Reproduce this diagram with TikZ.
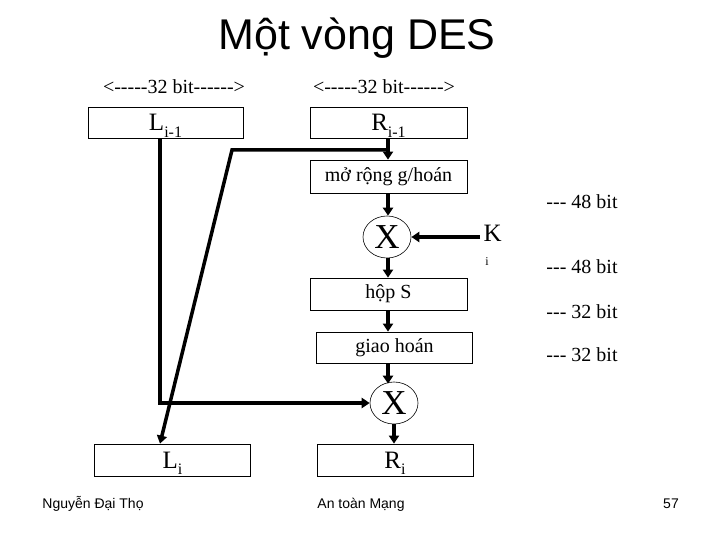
\documentclass[tikz,border=0pt]{standalone}
\usepackage{fontspec}
\newfontfamily\tnr{Liberation Serif}
\newfontfamily\arl{Liberation Sans}
\usetikzlibrary{arrows.meta,shapes.geometric,positioning}
\newcommand{\subidx}[1]{\raisebox{-0.6ex}{\fontsize{16}{16}\selectfont #1}}

\begin{document}
\begin{tikzpicture}[x=1pt, y=-1pt, >={Triangle[length=8pt,width=10pt]},
  box/.style={draw, line width=0.8pt, inner sep=0pt, minimum width=156pt, minimum height=32pt, font=\tnr\fontsize{20}{22}\selectfont},
  regbox/.style={box, text height=16pt, text depth=0pt, font=\tnr\fontsize{25}{26}\selectfont},
  xorc/.style={draw, ellipse, line width=0.6pt, minimum width=48pt, minimum height=42pt, inner sep=0pt, font=\tnr\fontsize{35}{35}\selectfont},
  flow/.style={line width=3.5pt},
  bits/.style={font=\tnr\fontsize{20}{24}\selectfont},
  foot/.style={font=\arl\fontsize{14}{16}\selectfont, anchor=base}]
  \useasboundingbox (0,0) rectangle (720,540);

  % Title
  \node[font=\arl\fontsize{43}{46}\selectfont] (title) at (357,38) {Một vòng DES};
  \node[bits] (wl) at (174,87) {<-----32 bit------>};
  \node[bits] (wr) at (384,87) {<-----32 bit------>};

  % Input halves
  \node[regbox, minimum width=155pt, minimum height=31pt] (Lprev) at (165.5,122.5) {L\subidx{i-1}};
  \node[regbox, minimum width=157pt, minimum height=31pt] (Rprev) at (388.5,122.5) {R\subidx{i-1}};

  % Round function
  \node[box, minimum width=157pt, minimum height=33pt] (expand) at (388.5,176.5) {mở rộng g/hoán};
  \node[xorc] (xorK) at (387,237) {X};
  \node[box, minimum width=157pt] (sbox) at (388.5,294) {hộp S\hspace{20pt}};
  \node[box, minimum height=31pt] (perm) at (394.5,347.5) {giao hoán\hspace{18pt}};
  \node[xorc] (xorL) at (394,403) {X};

  % Output halves
  \node[regbox] (Lnext) at (172.5,460) {L\subidx{i}\hspace{32pt}};
  \node[regbox] (Rnext) at (395,460) {R\subidx{i}};

  % Round key
  \node[font=\tnr\fontsize{25}{26}\selectfont, anchor=west] (kkey) at (480,233) {K};
  \node[font=\tnr\fontsize{12}{14}\selectfont] (kidx) at (487,262) {i};

  % Bit widths
  \node[bits] (b1) at (582,202) {--- 48 bit};
  \node[bits] (b2) at (582,267) {--- 48 bit};
  \node[bits] (b3) at (582,312) {--- 32 bit};
  \node[bits] (b4) at (582,355) {--- 32 bit};

  % Helper points
  \coordinate (split) at (388,150);
  \coordinate (kink) at (232,150);
  \coordinate (bend) at (160,403);

  % Connectors
  \draw[flow,->] (Lprev.south -| bend) -- (bend) -- (xorL.west);
  \draw[flow,->] (Rprev.south -| split) -- (expand.north -| split);
  \draw[flow,->] (split) -- (kink) -- (Lnext.north -| bend);
  \draw[flow,->] (expand.south -| split) -- (xorK.north -| split);
  \draw[flow,->] (kkey.west |- xorK.east) -- (xorK.east);
  \draw[flow,->] (xorK.south -| split) -- (sbox.north -| split);
  \draw[flow,->] (sbox.south -| split) -- (perm.north -| split);
  \draw[flow,->] (perm.south -| split) -- ([yshift=-2pt]xorL.north -| split);
  \draw[flow,->] (xorL.south) -- (Rnext.north -| xorL);

  % Footer
  \node[foot] (author) at (93,508) {Nguyễn Đại Thọ};
  \node[foot] (course) at (361,508) {An toàn Mạng};
  \node[foot] (page) at (671,508) {57};
\end{tikzpicture}
\end{document}
